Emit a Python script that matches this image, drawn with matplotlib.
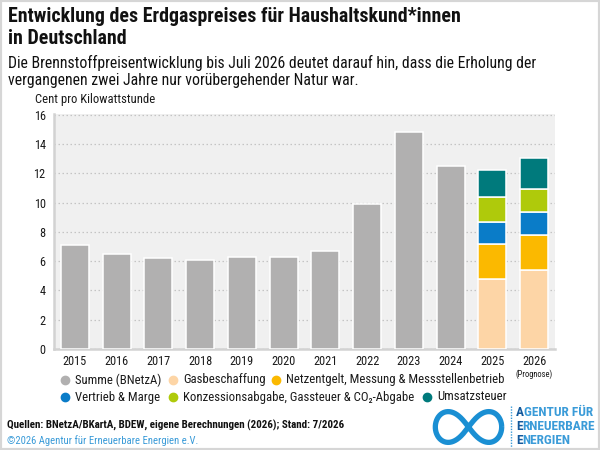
import numpy as np
import matplotlib
matplotlib.use("Agg")
import matplotlib.pyplot as plt
from matplotlib import font_manager as fm
from matplotlib.lines import Line2D
from matplotlib.patches import Rectangle

# data (Cent pro Kilowattstunde)
years = ["2015", "2016", "2017", "2018", "2019", "2020", "2021",
         "2022", "2023", "2024", "2025", "2026"]
summe = [7.1, 6.5, 6.2, 6.1, 6.3, 6.3, 6.7, 9.9, 14.8, 12.5]
gasbeschaffung = [4.8, 5.4]
netzentgelt = [2.4, 2.4]
vertrieb = [1.5, 1.55]
konzession = [1.65, 1.6]
umsatzsteuer = [1.9, 2.1]

labels = ["Summe (BNetzA)", "Gasbeschaffung",
          "Netzentgelt, Messung & Messstellenbetrieb",
          "Vertrieb & Marge", "Konzessionsabgabe, Gassteuer & CO\u2082-Abgabe",
          "Umsatzsteuer"]
colors = ["#b1b0b0", "#fdd5a6", "#fbb900", "#0a7cc8", "#afca0b", "#007a7c"]


def pick_font(cands, bold):
    for name in cands:
        for f in fm.fontManager.ttflist:
            w = f.weight if isinstance(f.weight, int) else (700 if f.weight == "bold" else 400)
            if f.name == name and f.style == "normal" and ((w >= 600) if bold else (350 <= w <= 500)):
                return name
    return "DejaVu Sans"


REG = [pick_font(["Liberation Sans Narrow", "Roboto Condensed", "Roboto"], False), "DejaVu Sans"]
BOLD = [pick_font(["Liberation Sans Narrow", "Roboto Condensed", "Roboto"], True), "DejaVu Sans"]
plt.rcParams['font.family'] = REG

W, H = 600, 450
fig = plt.figure(figsize=(6, 4.5), dpi=100)
renderer = fig.canvas.get_renderer()


def fx(px):
    return px / W


def fy(py):
    return 1 - py / H


def fit(t, target):
    w = t.get_window_extent(renderer).width
    t.set_fontsize(t.get_fontsize() * target / w)
    return t.get_fontsize()


ax = fig.add_axes([fx(54), fy(349), fx(555) - fx(54), fy(114) - fy(349)])
ax.set_facecolor("#f0f0f0")

bw = 0.67
x = np.arange(len(years))
ax.bar(x[:len(summe)], summe, width=bw, color=colors[0],
       edgecolor="white", linewidth=1.1, zorder=3)

stack = [gasbeschaffung, netzentgelt, vertrieb, konzession, umsatzsteuer]
xs = x[len(summe):]
bottom = np.zeros(len(xs))
for vals, c in zip(stack, colors[1:]):
    ax.bar(xs, vals, bottom=bottom, width=bw, color=c,
           edgecolor="white", linewidth=1.1, zorder=3)
    bottom += np.array(vals)

ax.set_xlim(-0.5, len(years) - 0.5)
ax.set_ylim(0, 16.05)
ax.set_yticks(range(0, 17, 2))
ax.set_xticks(x)
ax.set_xticklabels(years)
ax.grid(axis="y", linestyle=(0, (1.2, 2)), color="#c4c4c4", linewidth=0.9, zorder=1)
for s in ["top", "right"]:
    ax.spines[s].set_visible(False)
for s in ["left", "bottom"]:
    ax.spines[s].set_color("#d2d2d2")
    ax.spines[s].set_linewidth(1.8)

# tick label size so that "2015" is about 24 px wide
probe = fig.text(0, 0, "2015", fontsize=10)
tick_fs = fit(probe, 24)
probe.remove()
ax.tick_params(length=0, labelsize=tick_fs, colors="#1a1a1a", pad=4)
ax.tick_params(axis="y", pad=6)

ax.text(x[-1], -1.42, "(Prognose)", ha="center", va="top", fontsize=6.2,
        color="#1a1a1a", clip_on=False)

# titles
t1 = fig.text(fx(8), fy(17), "Entwicklung des Erdgaspreises für Haushaltskund*innen",
              fontsize=14.5, fontweight="bold", family=BOLD, va="center", color="#111111")
title_fs = fit(t1, 452)
fig.text(fx(8), fy(38), "in Deutschland", fontsize=title_fs, fontweight="bold",
         family=BOLD, va="center", color="#111111")
s1 = fig.text(fx(8), fy(63), "Die Brennstoffpreisentwicklung bis Juli 2026 deutet darauf hin, dass die Erholung der",
              fontsize=10.8, va="center", color="#111111")
sub_fs = fit(s1, 529)
fig.text(fx(8), fy(81), "vergangenen zwei Jahre nur vorübergehender Natur war.",
         fontsize=sub_fs, va="center", color="#111111")
u = fig.text(fx(35), fy(99), "Cent pro Kilowattstunde", fontsize=8, va="center",
             color="#1a1a1a")
fit(u, 120)

# legend (flowing layout)
leg_pos = [(65, 380), (173, 380), (276, 380), (65, 397), (173, 397), (427, 397)]
leg_texts = []
for (mx, my), lab, c in zip(leg_pos, labels, colors):
    fig.add_artist(Line2D([fx(mx)], [fy(my)], marker="o", markersize=6,
                          color=c, linestyle="none", transform=fig.transFigure))
    leg_texts.append(fig.text(fx(mx + 10), fy(my), lab, fontsize=9.5, va="center",
                              color="#1a1a1a"))
leg_fs = fit(leg_texts[2], 219)
for t in leg_texts:
    t.set_fontsize(leg_fs)

# footer
q = fig.text(fx(7), fy(425), "Quellen: BNetzA/BKartA, BDEW, eigene Berechnungen (2026); Stand: 7/2026",
             fontsize=7.3, fontweight="bold", family=BOLD, va="center", color="#111111")
fit(q, 338)
cp = fig.text(fx(7), fy(441), "©2026 Agentur für Erneuerbare Energien e.V.",
              fontsize=7, va="center", color="#3a9bd8")
fit(cp, 191)

# logo
lax = fig.add_axes([fx(432), fy(447), fx(505) - fx(432), fy(407) - fy(447)])
t = np.linspace(0, 2 * np.pi, 400)
lx = np.cos(t) / (1 + np.sin(t) ** 2)
ly = np.sin(t) * np.cos(t) / (1 + np.sin(t) ** 2)
lax.plot(lx, ly * 1.35, color="#1a8fd3", linewidth=3.8, solid_capstyle="butt")
lax.set_xlim(-1.1, 1.1)
lax.set_ylim(-0.62, 0.62)
lax.axis("off")

fig.add_artist(Line2D([fx(511), fx(511)], [fy(406), fy(447)], color="#3a9bd8",
                      linestyle=(0, (1, 1)), linewidth=1, transform=fig.transFigure))
probe = fig.text(0, 0, "AGENTUR FÜR", fontsize=10, fontweight="bold", family=BOLD)
logo_fs = fit(probe, 77)
probe.remove()
for py, word in [(413, "AGENTUR FÜR"), (427, "ERNEUERBARE"), (441, "ENERGIEN")]:
    first = fig.text(fx(516), fy(py), word[0], fontsize=logo_fs, fontweight="bold",
                     family=BOLD, va="center", color="#13599c")
    fw = first.get_window_extent(renderer).width
    fig.text(fx(516 + fw), fy(py), word[1:], fontsize=logo_fs, fontweight="bold",
             family=BOLD, va="center", color="#3a9bd8")

# frame
fig.add_artist(Rectangle((0, 0), 1, 1, transform=fig.transFigure, fill=False,
                         edgecolor="#d6d6d6", linewidth=3))

fig.savefig("out.png", dpi=100)
